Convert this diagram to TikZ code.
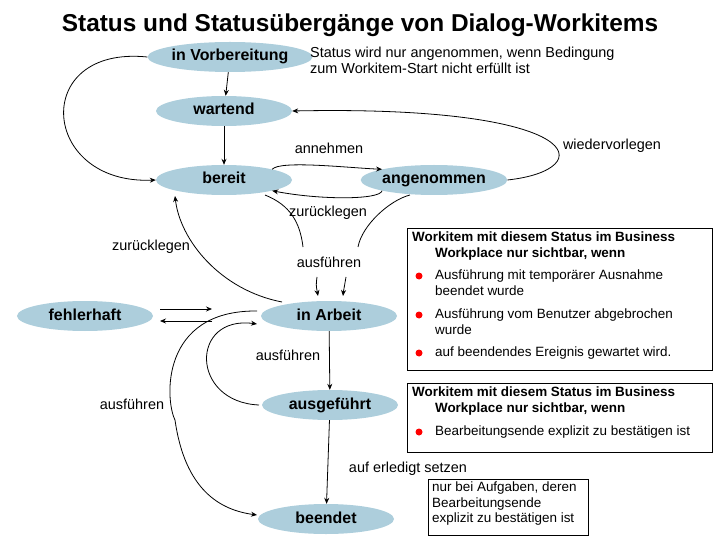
\documentclass[tikz,border=0pt]{standalone}
\usepackage{fontspec}
\setmainfont{Liberation Sans}
\usetikzlibrary{shapes.geometric,arrows.meta}
\begin{document}
\begin{tikzpicture}[x=1bp,y=-1bp,
 st/.style={ellipse,fill=stc,minimum width=136bp,minimum height=30bp,inner sep=0pt,text height=11.5bp,text depth=3.5bp,font=\fontsize{16}{18}\selectfont\bfseries},
 ar/.style={-{Stealth[length=6bp,width=5bp]},thick},
 lb/.style={font=\fontsize{14.5}{16}\selectfont},
 bx/.style={draw,thin,anchor=north west,align=left}]
\definecolor{stc}{RGB}{173,206,220}
\useasboundingbox (0,0) rectangle (720,540);
\node[font=\fontsize{24.5}{26}\selectfont\bfseries] (title) at (360,25) {Status und Statusübergänge von Dialog-Workitems};
\node[st] (vor) at (230,57) {in Vorbereitung};
\node[st] (war) at (224,111) {wartend};
\node[st] (ber) at (224,180) {bereit};
\node[st] (ang) at (434,180) {angenommen};
\node[st] (feh) at (85,316) {fehlerhaft};
\node[st] (arb) at (329,316) {in Arbeit};
\node[st] (ausg) at (330,405) {ausgeführt};
\node[st] (bee) at (326,519) {beendet};
\node[lb,align=left,anchor=north west,inner sep=0pt] (note) at (310,47) {Status wird nur angenommen, wenn Bedingung\\zum Workitem-Start nicht erfüllt ist};
% arrows
\draw[ar] (vor) -- (war);
\draw[ar] (war) -- (ber);
\draw[ar] (vor.west) .. controls (30,45) and (40,185) .. (ber.west);
\draw[ar] (ber.north east) .. controls (280,160) and (350,168) .. (ang.north west);
\draw[ar] (ang.south west) .. controls (380,200) and (320,200) .. (ber.south east);
\draw[ar] (ang.east) .. controls (600,170) and (590,105) .. (war.east);
\draw[thick] (265,195) .. controls (290,205) and (300,222) .. (303,247);
\draw[thick] (410,195) .. controls (390,200) and (362,225) .. (358,247);
\coordinate (a1) at (317,277);
\coordinate (a2) at (346,277);
\draw[ar] (a1) .. controls (316,285) .. (318,296);
\draw[ar] (a2) .. controls (344,285) .. (343,296);
\draw[ar] (282,302) .. controls (220,290) and (180,240) .. (175,196);
\draw[ar] (160,309) -- (212,309);
\draw[ar] (212,321) -- (160,321);
\draw[ar] (arb) -- (ausg);
\draw[ar] (ausg) -- (bee);
\draw[ar] (259,405) .. controls (190,402) and (190,315) .. (257,324);
\draw[ar] (257,311) .. controls (160,310) and (165,400) .. (175,420) .. controls (185,490) and (220,510) .. (257,515);
% labels
\node[lb] (l1) at (329,148) {annehmen};
\node[lb] (l2) at (328,213) {zurücklegen};
\node[lb] (l3) at (612,146) {wiedervorlegen};
\node[lb] (l4) at (151,247) {zurücklegen};
\node[lb] (l5) at (329,262) {ausführen};
\node[lb] (l6) at (288,355) {ausführen};
\node[lb] (l7) at (132,404) {ausführen};
\node[lb] (l8) at (408,469) {auf erledigt setzen};
% boxes
\node[bx,minimum width=305bp,minimum height=142bp] (box1) at (407,228) {};
\node[anchor=north west,font=\fontsize{13.5}{15.5}\selectfont\bfseries,align=left,inner sep=0pt] (h1) at (412,232) {Workitem mit diesem Status im Business\\\hspace{1.7em}Workplace nur sichtbar, wenn};
\foreach \y/\t [count=\i] in {277/{Ausführung mit temporärer Ausnahme\\beendet wurde},316/{Ausführung vom Benutzer abgebrochen\\wurde},354/{auf beendendes Ereignis gewartet wird.}}{
 \fill[red] (419,\y-1) circle (3.5bp);
 \node[anchor=north west,align=left,font=\fontsize{13.5}{15.5}\selectfont,inner sep=0pt] (t\i) at (435,\y-7) {\t};
}
\node[bx,minimum width=305bp,minimum height=69bp] (box2) at (407,383) {};
\node[anchor=north west,font=\fontsize{13.5}{15.5}\selectfont\bfseries,align=left,inner sep=0pt] (h2) at (412,387) {Workitem mit diesem Status im Business\\\hspace{1.7em}Workplace nur sichtbar, wenn};
\fill[red] (419,432) circle (3.5bp);
\node[anchor=north west,font=\fontsize{13.5}{15.5}\selectfont,inner sep=0pt] (t4) at (435,426) {Bearbeitungsende explizit zu bestätigen ist};
\node[bx,minimum width=160bp,minimum height=56bp,inner sep=0pt] (box3) at (428,479) {};
\node[anchor=north west,align=left,font=\fontsize{13.5}{15.5}\selectfont,inner sep=0pt] (t5) at (432,482) {nur bei Aufgaben, deren\\Bearbeitungsende\\explizit zu bestätigen ist};
\end{tikzpicture}
\end{document}
